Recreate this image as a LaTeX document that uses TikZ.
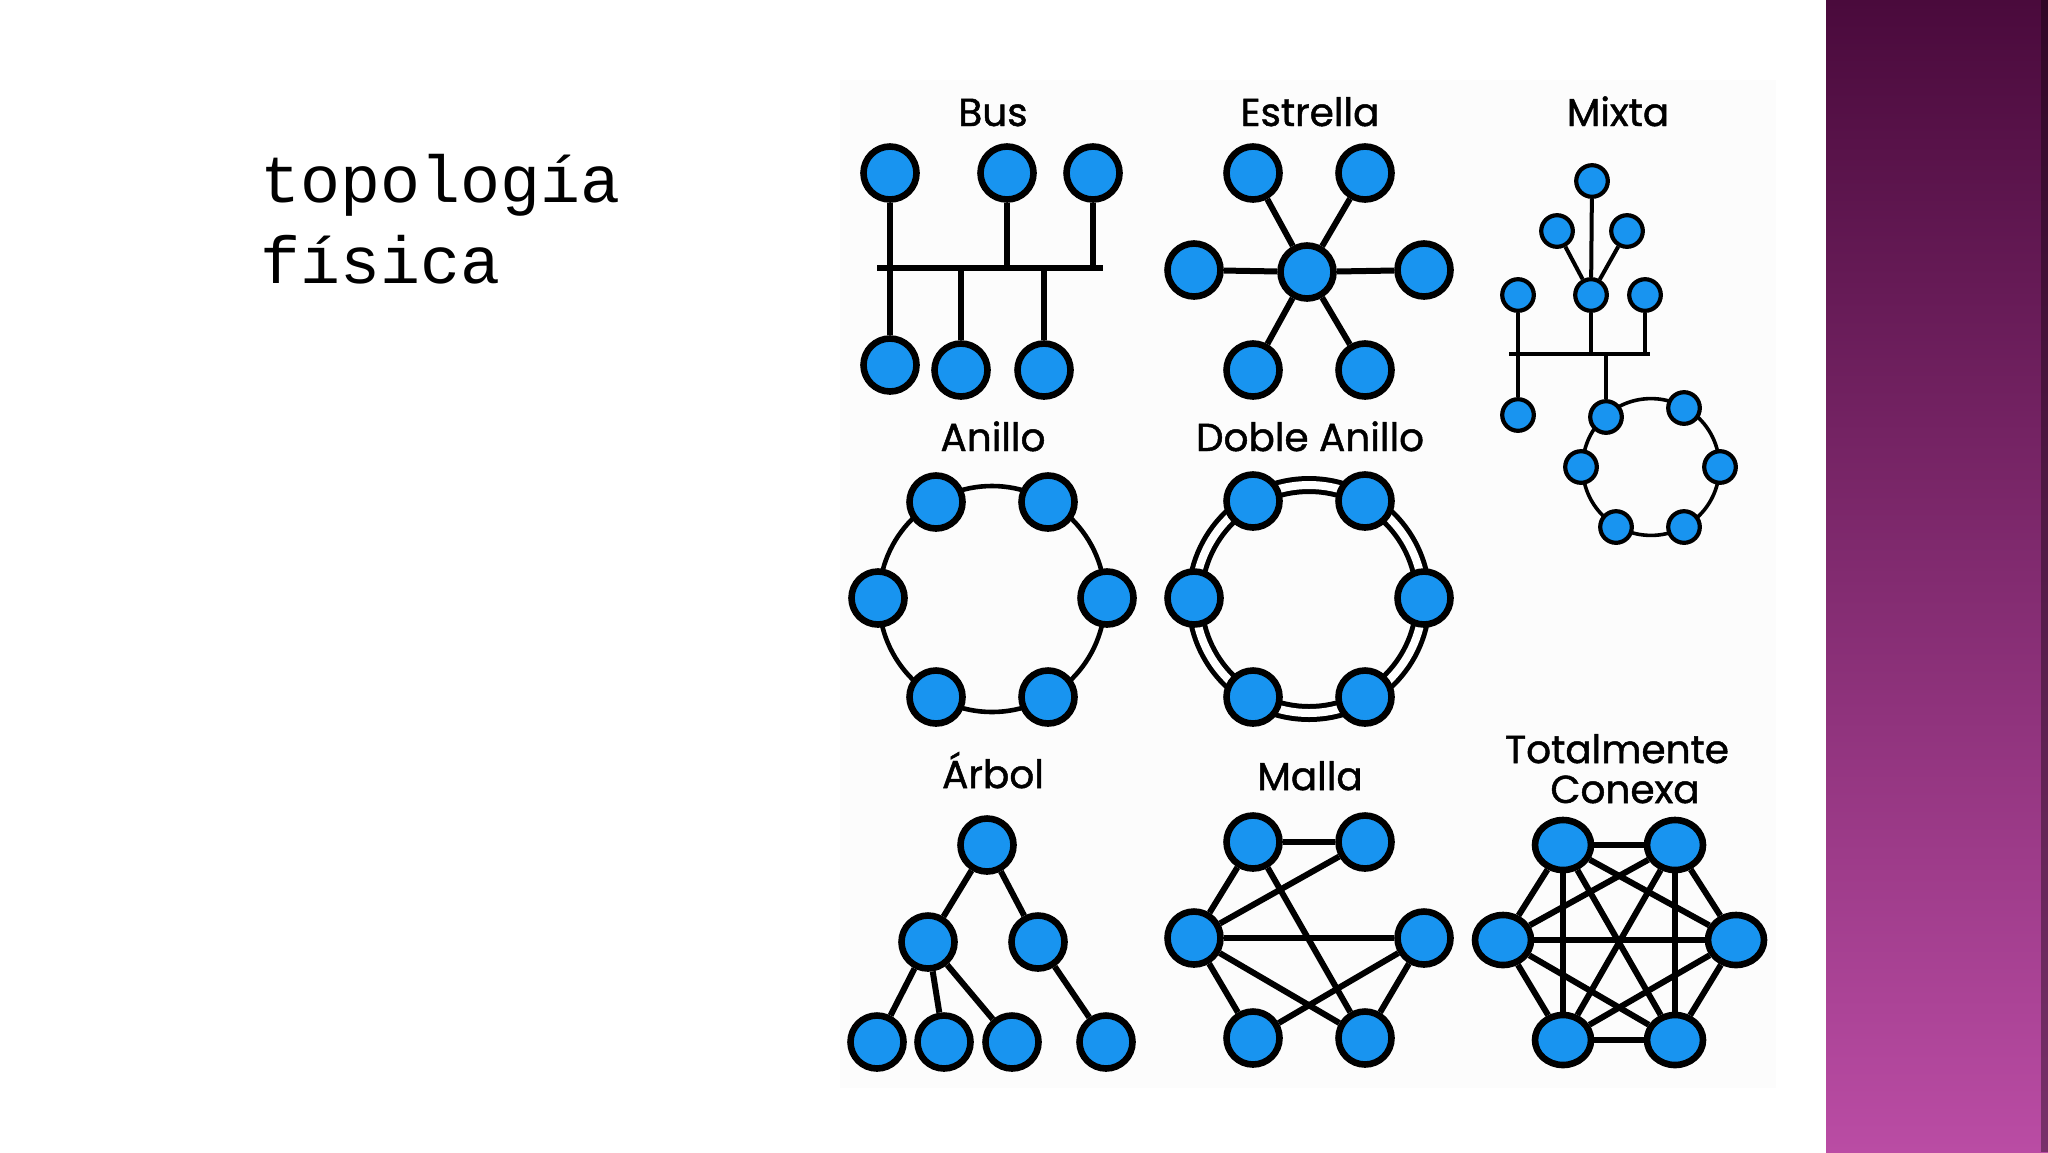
\documentclass[tikz,border=0pt]{standalone}
\usepackage{fontspec}
\newfontfamily\lblf[FakeBold=1.2]{Poppins}
\newfontfamily\monof{Liberation Mono}
\usetikzlibrary{shapes.geometric}
\definecolor{nodeblue}{RGB}{24,148,240}
\definecolor{plumtop}{RGB}{74,10,60}
\definecolor{plummid}{RGB}{132,48,114}
\definecolor{plumbot}{RGB}{186,76,164}
\definecolor{panelbg}{RGB}{252,252,252}
\begin{document}
\begin{tikzpicture}[x=0.5pt,y=-0.5pt,
  nd/.style={ellipse,draw=black,fill=nodeblue,line width=3.3pt,minimum width=26.5pt,minimum height=26.5pt,inner sep=0pt},
  snd/.style={ellipse,draw=black,fill=nodeblue,line width=2.1pt,minimum width=15.8pt,minimum height=15.8pt,inner sep=0pt},
  cnd/.style={nd,minimum width=28pt,minimum height=25pt},
  ln/.style={line width=3pt},
  sln/.style={line width=2pt},
  ringln/.style={line width=2.3pt},
  lbl/.style={font=\lblf\fontsize{19.5}{22}\selectfont,anchor=base,inner sep=0pt},
  ttl/.style={font=\monof\fontsize{33.3}{40}\selectfont,anchor=base west,inner sep=0pt}
]
\useasboundingbox[fill=white] (0,0) rectangle (2048,1152);
\fill[panelbg] (840,80) rectangle (1776,1088);
\shade[top color=plumtop, middle color=plummid, bottom color=plumbot] (1826,0) rectangle (2048,1152);
\fill[black,opacity=0.35] (2041,0) rectangle (2048,1152);

% title
\node[ttl] (t1) at (260,202) {topología};
\node[ttl] (t2) at (260,283) {física};

% labels
\node[lbl] (lbus) at (993,126) {Bus};
\node[lbl] (lest) at (1310,126) {Estrella};
\node[lbl] (lmix) at (1618,126) {Mixta};
\node[lbl] (lani) at (993,451) {Anillo};
\node[lbl] (ldob) at (1310,451) {Doble Anillo};
\node[lbl] (larb) at (993,788) {Árbol};
\node[lbl] (lmal) at (1310,790) {Malla};
\node[lbl] (ltot) at (1617,763) {Totalmente};
\node[lbl] (lcon) at (1625,803) {Conexa};

% rings (drawn first, nodes on top)
\draw[ringln] (992,599) circle[radius=56.5pt];
\draw[line width=2.5pt,double=white,double distance=4pt] (1309,599) circle[radius=57pt];
\draw[line width=1.8pt] (1651,467) circle[radius=34.2pt];

% Bus
\node[nd] (bt1) at (890,173) {};
\node[nd] (bt2) at (1007,173) {};
\node[nd] (bt3) at (1093,173) {};
\node[nd] (bb1) at (890,365) {};
\node[nd] (bb2) at (961,370) {};
\node[nd] (bb3) at (1044,370) {};
\coordinate (busL) at (877,268);
\coordinate (busR) at (1103,268);
\draw[ln] (busL) -- (busR);
\foreach \n in {bt1,bt2,bt3,bb1,bb2,bb3} \draw[ln] (\n) -- (\n |- busL);

% Estrella
\node[nd] (sc) at (1307,272) {};
\node[nd] (s1) at (1253,173) {};
\node[nd] (s2) at (1365,173) {};
\node[nd] (s3) at (1194,270) {};
\node[nd] (s4) at (1424,270) {};
\node[nd] (s5) at (1253,370) {};
\node[nd] (s6) at (1365,370) {};
\foreach \n in {s1,s2,s3,s4,s5,s6} \draw[ln] (sc) -- (\n);

% Mixta
\node[snd] (m0) at (1592,181) {};
\node[snd] (m1) at (1557,231) {};
\node[snd] (m2) at (1627,231) {};
\node[snd] (m3) at (1518,295) {};
\node[snd] (mc) at (1591,295) {};
\node[snd] (m4) at (1645,295) {};
\node[snd] (m5) at (1518,415) {};
\node[snd] (r1) at (1606,417) {};
\node[snd] (r2) at (1684,408) {};
\node[snd] (r3) at (1720,467) {};
\node[snd] (r4) at (1684,527) {};
\node[snd] (r5) at (1616,527) {};
\node[snd] (r6) at (1581,467) {};
\coordinate (mbL) at (1509,354);
\coordinate (mbR) at (1650,354);
\draw[sln] (mbL) -- (mbR);
\draw[sln] (m0) -- (mc);
\draw[sln] (m1) -- (mc);
\draw[sln] (m2) -- (mc);
\draw[sln] (mc) -- (mc |- mbL);
\draw[sln] (m4) -- (m4 |- mbL);
\draw[sln] (m3) -- (m5);
\draw[sln] (r1) -- (r1 |- mbL);

% Anillo
\node[nd] (a1) at (936,502) {};
\node[nd] (a2) at (1048,502) {};
\node[nd] (a3) at (1107,598) {};
\node[nd] (a4) at (1048,697) {};
\node[nd] (a5) at (936,697) {};
\node[nd] (a6) at (878,598) {};

% Doble Anillo
\node[nd] (d1) at (1253,501) {};
\node[nd] (d2) at (1365,501) {};
\node[nd] (d3) at (1424,598) {};
\node[nd] (d4) at (1365,697) {};
\node[nd] (d5) at (1253,697) {};
\node[nd] (d6) at (1194,598) {};

% Arbol
\node[nd] (a0) at (987,845) {};
\node[nd] (b1) at (928,942) {};
\node[nd] (b2) at (1038,942) {};
\node[nd] (b3) at (877,1042) {};
\node[nd] (b4) at (944,1042) {};
\node[nd] (b5) at (1012,1042) {};
\node[nd] (b6) at (1106,1042) {};
\draw[ln] (a0) -- (b1);
\draw[ln] (a0) -- (b2);
\draw[ln] (b1) -- (b3);
\draw[ln] (b1) -- (b4);
\draw[ln] (b1) -- (b5);
\draw[ln] (b2) -- (b6);

% Malla
\node[nd] (g1) at (1253,842) {};
\node[nd] (g2) at (1365,842) {};
\node[nd] (g3) at (1194,938) {};
\node[nd] (g4) at (1424,938) {};
\node[nd] (g5) at (1253,1038) {};
\node[nd] (g6) at (1365,1038) {};
\draw[ln] (g1) -- (g2);
\draw[ln] (g1) -- (g3);
\draw[ln] (g3) -- (g2);
\draw[ln] (g1) -- (g6);
\draw[ln] (g3) -- (g4);
\draw[ln] (g3) -- (g5);
\draw[ln] (g3) -- (g6);
\draw[ln] (g5) -- (g4);
\draw[ln] (g4) -- (g6);

% Totalmente conexa
\node[cnd] (c1) at (1563,845) {};
\node[cnd] (c2) at (1675,845) {};
\node[cnd] (c3) at (1736,940) {};
\node[cnd] (c4) at (1675,1040) {};
\node[cnd] (c5) at (1563,1040) {};
\node[cnd] (c6) at (1503,940) {};
\foreach \i/\j in {c1/c2,c1/c3,c1/c4,c1/c5,c1/c6,c2/c3,c2/c4,c2/c5,c2/c6,c3/c4,c3/c5,c3/c6,c4/c5,c4/c6,c5/c6}
  \draw[ln] (\i) -- (\j);
\end{tikzpicture}
\end{document}
